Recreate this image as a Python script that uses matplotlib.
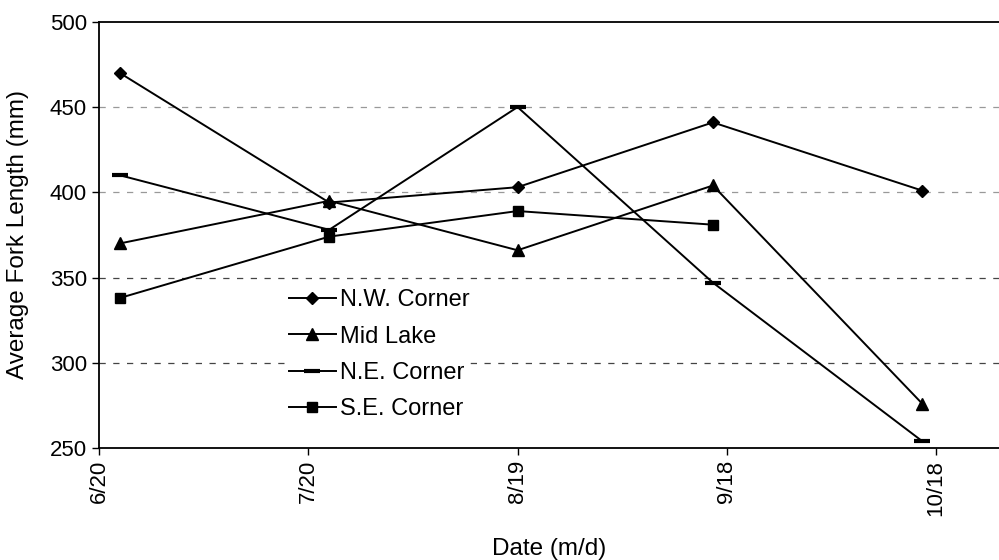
import datetime as dt
import matplotlib
matplotlib.use("Agg")
import matplotlib.pyplot as plt

plt.rcParams['font.family'] = ['Liberation Sans', 'DejaVu Sans']

sample_dates = ["6/23", "7/23", "8/19", "9/16", "10/16"]
tick_dates = ["6/20", "7/20", "8/19", "9/18", "10/18"]

nw_corner = [470, 394, 403, 441, 401]
mid_lake = [370, 395, 366, 404, 276]
ne_corner = [410, 378, 450, 347, 254]
se_corner = [338, 374, 389, 381]


def to_date(s):
    m, d = s.split("/")
    return dt.date(2001, int(m), int(d))


x = [to_date(s) for s in sample_dates]
ticks = [to_date(s) for s in tick_dates]

fig = plt.figure(figsize=(9.99, 5.6), dpi=100)
ax = fig.add_axes([0.099, 0.2, 0.901, 0.761])

ax.plot(x, nw_corner, color="black", lw=1.4, marker="D", ms=6, label="N.W. Corner")
ax.plot(x, mid_lake, color="black", lw=1.4, marker="^", ms=8, label="Mid Lake")
ax.plot(x, ne_corner, color="black", lw=1.4, marker="_", ms=11, mew=3, label="N.E. Corner")
ax.plot(x[:len(se_corner)], se_corner, color="black", lw=1.4, marker="s", ms=7, label="S.E. Corner")

ax.set_ylim(250, 500)
ax.set_yticks([250, 300, 350, 400, 450, 500])
ax.set_xlim(ticks[0], ticks[0] + dt.timedelta(days=129))
ax.set_xticks(ticks)
ax.set_xticklabels(tick_dates, rotation=90)
ax.xaxis.set_minor_locator(plt.NullLocator())

# grid: upper lines are fainter, lower ones darker dashes
for yv, col in [(300, "#444444"), (350, "#444444"), (400, "#999999"), (450, "#999999")]:
    ax.axhline(yv, color=col, lw=0.9, ls=(0, (5, 6)), zorder=0)

ax.spines["right"].set_visible(False)
for sp in ["left", "bottom", "top"]:
    ax.spines[sp].set_linewidth(1.3)

ax.tick_params(axis="both", labelsize=16, direction="out", length=5, width=1)
ax.set_xlabel("Date (m/d)", fontsize=17.5, labelpad=16)
ax.set_ylabel("Average Fork Length (mm)", fontsize=17.5)
ax.yaxis.set_label_coords(-0.078, 0.5)

leg = ax.legend(loc="upper left", bbox_to_anchor=(0.211, 0.372), frameon=True,
                fontsize=17, handlelength=2.0, handletextpad=0.15, labelspacing=0.6,
                borderaxespad=0, borderpad=0.0, fancybox=False)
leg.get_frame().set_edgecolor("none")
leg.get_frame().set_facecolor("white")
leg.get_frame().set_alpha(1)
ax.set_axisbelow(True)

fig.savefig("out.png", dpi=100)
